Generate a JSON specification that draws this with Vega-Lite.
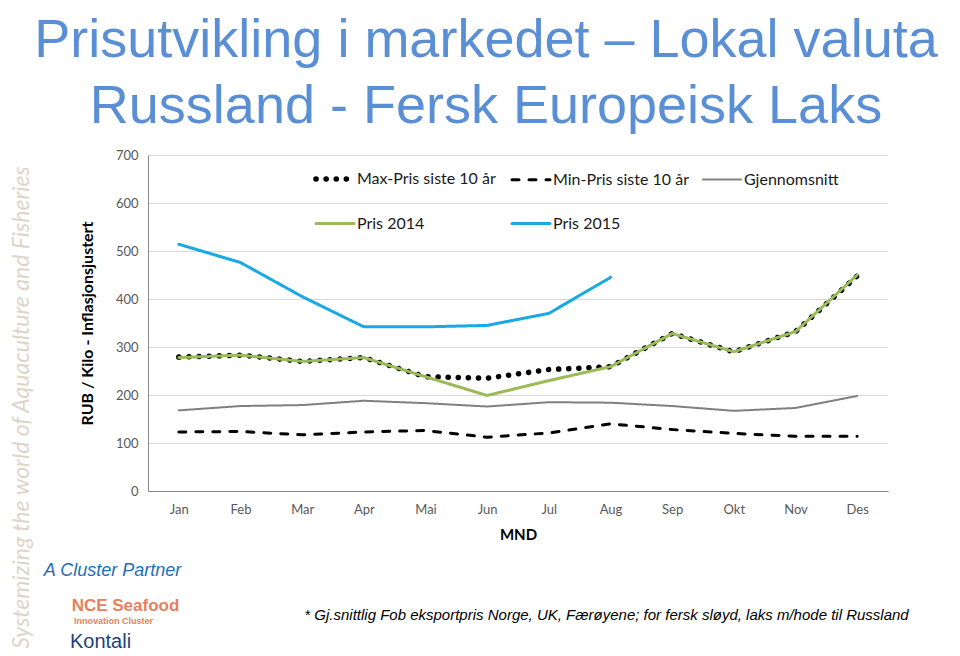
{
  "$schema": "https://vega.github.io/schema/vega-lite/v6.json",
  "width": 740,
  "height": 336,
  "autosize": {"type": "none"},
  "padding": {"left": 148, "top": 155, "right": 72, "bottom": 165},
  "background": "#ffffff",
  "title": {
    "text": ["Prisutvikling i markedet – Lokal valuta", "Russland  - Fersk Europeisk Laks"],
    "font": "Liberation Sans",
    "fontSize": 54,
    "fontWeight": "normal",
    "color": "#5a8fd6",
    "lineHeight": 66,
    "anchor": "middle",
    "frame": "group",
    "baseline": "bottom",
    "offset": -39,
    "dx": -32
  },
  "config": {
    "view": {"stroke": null},
    "axis": {"labelFont": "Lato", "titleFont": "Lato"},
    "legend": {"labelFont": "Lato"}
  },
  "layer": [
    {
      "data": {
        "values": [
          {"m": "Jan", "s": "Max-Pris siste 10 år", "v": 279},
          {"m": "Feb", "s": "Max-Pris siste 10 år", "v": 283},
          {"m": "Mar", "s": "Max-Pris siste 10 år", "v": 270},
          {"m": "Apr", "s": "Max-Pris siste 10 år", "v": 278},
          {"m": "Mai", "s": "Max-Pris siste 10 år", "v": 238},
          {"m": "Jun", "s": "Max-Pris siste 10 år", "v": 235},
          {"m": "Jul", "s": "Max-Pris siste 10 år", "v": 253},
          {"m": "Aug", "s": "Max-Pris siste 10 år", "v": 259},
          {"m": "Sep", "s": "Max-Pris siste 10 år", "v": 328},
          {"m": "Okt", "s": "Max-Pris siste 10 år", "v": 290},
          {"m": "Nov", "s": "Max-Pris siste 10 år", "v": 332},
          {"m": "Des", "s": "Max-Pris siste 10 år", "v": 448},
          {"m": "Jan", "s": "Min-Pris siste 10 år", "v": 123},
          {"m": "Feb", "s": "Min-Pris siste 10 år", "v": 124},
          {"m": "Mar", "s": "Min-Pris siste 10 år", "v": 117},
          {"m": "Apr", "s": "Min-Pris siste 10 år", "v": 123},
          {"m": "Mai", "s": "Min-Pris siste 10 år", "v": 126},
          {"m": "Jun", "s": "Min-Pris siste 10 år", "v": 112},
          {"m": "Jul", "s": "Min-Pris siste 10 år", "v": 121},
          {"m": "Aug", "s": "Min-Pris siste 10 år", "v": 140},
          {"m": "Sep", "s": "Min-Pris siste 10 år", "v": 128},
          {"m": "Okt", "s": "Min-Pris siste 10 år", "v": 120},
          {"m": "Nov", "s": "Min-Pris siste 10 år", "v": 114},
          {"m": "Des", "s": "Min-Pris siste 10 år", "v": 114},
          {"m": "Jan", "s": "Gjennomsnitt", "v": 168},
          {"m": "Feb", "s": "Gjennomsnitt", "v": 177},
          {"m": "Mar", "s": "Gjennomsnitt", "v": 179},
          {"m": "Apr", "s": "Gjennomsnitt", "v": 188},
          {"m": "Mai", "s": "Gjennomsnitt", "v": 183},
          {"m": "Jun", "s": "Gjennomsnitt", "v": 176},
          {"m": "Jul", "s": "Gjennomsnitt", "v": 185},
          {"m": "Aug", "s": "Gjennomsnitt", "v": 184},
          {"m": "Sep", "s": "Gjennomsnitt", "v": 177},
          {"m": "Okt", "s": "Gjennomsnitt", "v": 167},
          {"m": "Nov", "s": "Gjennomsnitt", "v": 173},
          {"m": "Des", "s": "Gjennomsnitt", "v": 198},
          {"m": "Jan", "s": "Pris 2014", "v": 278},
          {"m": "Feb", "s": "Pris 2014", "v": 283},
          {"m": "Mar", "s": "Pris 2014", "v": 270},
          {"m": "Apr", "s": "Pris 2014", "v": 278},
          {"m": "Mai", "s": "Pris 2014", "v": 238},
          {"m": "Jun", "s": "Pris 2014", "v": 199},
          {"m": "Jul", "s": "Pris 2014", "v": 230},
          {"m": "Aug", "s": "Pris 2014", "v": 259},
          {"m": "Sep", "s": "Pris 2014", "v": 328},
          {"m": "Okt", "s": "Pris 2014", "v": 290},
          {"m": "Nov", "s": "Pris 2014", "v": 332},
          {"m": "Des", "s": "Pris 2014", "v": 450},
          {"m": "Jan", "s": "Pris 2015", "v": 514},
          {"m": "Feb", "s": "Pris 2015", "v": 476},
          {"m": "Mar", "s": "Pris 2015", "v": 405},
          {"m": "Apr", "s": "Pris 2015", "v": 342},
          {"m": "Mai", "s": "Pris 2015", "v": 342},
          {"m": "Jun", "s": "Pris 2015", "v": 345},
          {"m": "Jul", "s": "Pris 2015", "v": 370},
          {"m": "Aug", "s": "Pris 2015", "v": 445}
        ]
      },
      "mark": {"type": "line", "strokeCap": "round", "strokeJoin": "round"},
      "encoding": {
        "x": {
          "field": "m",
          "type": "ordinal",
          "sort": ["Jan", "Feb", "Mar", "Apr", "Mai", "Jun", "Jul", "Aug", "Sep", "Okt", "Nov", "Des"],
          "axis": {
            "orient": "bottom",
            "title": "MND",
            "titleFontSize": 15,
            "titleFontWeight": "bold",
            "titleColor": "#000000",
            "titleY": 43,
            "titleBaseline": "middle",
            "labelAngle": 0,
            "labelFontSize": 13,
            "labelColor": "#595959",
            "labelPadding": 12,
            "ticks": false,
            "domainColor": "#868686",
            "grid": false
          }
        },
        "y": {
          "field": "v",
          "type": "quantitative",
          "scale": {"domain": [0, 700], "nice": false},
          "axis": {
            "orient": "left",
            "values": [0, 100, 200, 300, 400, 500, 600, 700],
            "title": "RUB / Kilo - Inflasjonsjustert",
            "titleFontSize": 16,
            "titleFontWeight": "bold",
            "titleColor": "#000000",
            "titleX": -61,
            "titleBaseline": "middle",
            "labelFontSize": 13,
            "labelColor": "#595959",
            "labelPadding": 10,
            "ticks": false,
            "domainColor": "#868686",
            "gridColor": "#d9d9d9"
          }
        },
        "color": {
          "field": "s",
          "type": "nominal",
          "scale": {
            "domain": ["Max-Pris siste 10 år", "Min-Pris siste 10 år", "Gjennomsnitt", "Pris 2014", "Pris 2015"],
            "range": ["#000000", "#000000", "#808080", "#9bbb59", "#1aa9e2"]
          },
          "legend": {
            "orient": "none",
            "legendX": 165,
            "legendY": 2,
            "columns": 3,
            "title": null,
            "direction": "horizontal",
            "symbolType": "stroke",
            "symbolSize": 1444,
            "labelFontSize": 16,
            "labelColor": "#1a1a1a",
            "labelOffset": 0,
            "columnPadding": 10,
            "rowPadding": 13,
            "padding": 0,
            "encode": {"symbols": {"update": {"strokeCap": {"value": "round"}}}},
            "encoding": {"symbols": {"update": {"strokeCap": {"value": "round"}}}}
          }
        },
        "strokeDash": {
          "field": "s",
          "type": "nominal",
          "scale": {
            "domain": ["Max-Pris siste 10 år", "Min-Pris siste 10 år", "Gjennomsnitt", "Pris 2014", "Pris 2015"],
            "range": [[0.1, 10], [7, 10], [1, 0], [1, 0], [1, 0]]
          }
        },
        "strokeWidth": {
          "field": "s",
          "type": "nominal",
          "scale": {
            "type": "ordinal",
            "domain": ["Max-Pris siste 10 år", "Min-Pris siste 10 år", "Gjennomsnitt", "Pris 2014", "Pris 2015"],
            "range": [5.5, 3, 2, 3, 3]
          }
        }
      }
    },
    {
      "data": {"values": [{"k": "a", "n": 0}]},
      "mark": {"type": "point", "opacity": 0},
      "encoding": {
        "x": {
          "field": "k",
          "type": "nominal",
          "axis": {
            "orient": "bottom",
            "labels": false, "ticks": false, "domain": false, "grid": false,
            "title": "A Cluster Partner",
            "titleFont": "Liberation Sans",
            "titleFontStyle": "italic",
            "titleFontWeight": "normal",
            "titleFontSize": 18,
            "titleColor": "#1f6db4",
            "titleX": -36,
            "titleY": 79,
            "titleAlign": "center",
            "titleBaseline": "middle"
          }
        },
        "y": {
          "field": "n",
          "type": "quantitative",
          "axis": {
            "orient": "left",
            "labels": false, "ticks": false, "domain": false, "grid": false,
            "title": "Systemizing the world of Aquaculture and Fisheries",
            "titleFont": "Lato",
            "titleFontStyle": "italic",
            "titleFontWeight": "normal",
            "titleFontSize": 23,
            "titleColor": "#dcd5c8",
            "titleAngle": 270,
            "titleX": -127,
            "titleY": 252,
            "titleAlign": "center",
            "titleBaseline": "middle"
          }
        }
      }
    },
    {
      "data": {"values": [{"k": "a", "n": 0}]},
      "mark": {"type": "point", "opacity": 0},
      "encoding": {
        "x": {
          "field": "k",
          "type": "nominal",
          "axis": {
            "orient": "bottom",
            "labels": false, "ticks": false, "domain": false, "grid": false,
            "title": "* Gj.snittlig Fob eksportpris Norge, UK, Færøyene; for fersk sløyd, laks m/hode til Russland",
            "titleFont": "Liberation Sans",
            "titleFontStyle": "italic",
            "titleFontWeight": "normal",
            "titleFontSize": 15,
            "titleColor": "#000000",
            "titleX": 458,
            "titleY": 123,
            "titleAlign": "center",
            "titleBaseline": "middle"
          }
        },
        "y": {
          "field": "n",
          "type": "quantitative",
          "axis": {
            "orient": "left",
            "labels": false, "ticks": false, "domain": false, "grid": false,
            "title": "NCE Seafood",
            "titleFont": "Liberation Sans",
            "titleFontWeight": "bold",
            "titleFontSize": 17,
            "titleColor": "#e8805c",
            "titleAngle": 0,
            "titleX": -23,
            "titleY": 450,
            "titleAlign": "center",
            "titleBaseline": "middle"
          }
        }
      }
    },
    {
      "data": {"values": [{"k": "a", "n": 0}]},
      "mark": {"type": "point", "opacity": 0},
      "encoding": {
        "x": {
          "field": "k",
          "type": "nominal",
          "axis": {
            "orient": "bottom",
            "labels": false, "ticks": false, "domain": false, "grid": false,
            "title": "Kontali",
            "titleFont": "Liberation Sans",
            "titleFontWeight": "normal",
            "titleFontSize": 20,
            "titleColor": "#1d3f7a",
            "titleX": -48,
            "titleY": 150,
            "titleAlign": "center",
            "titleBaseline": "middle"
          }
        },
        "y": {
          "field": "n",
          "type": "quantitative",
          "axis": {
            "orient": "left",
            "labels": false, "ticks": false, "domain": false, "grid": false,
            "title": "Innovation Cluster",
            "titleFont": "Liberation Sans",
            "titleFontWeight": "bold",
            "titleFontSize": 9,
            "titleColor": "#e8805c",
            "titleAngle": 0,
            "titleX": -35,
            "titleY": 465,
            "titleAlign": "center",
            "titleBaseline": "middle"
          }
        }
      }
    }
  ],
  "resolve": {"scale": {"x": "independent", "y": "independent"}}
}
